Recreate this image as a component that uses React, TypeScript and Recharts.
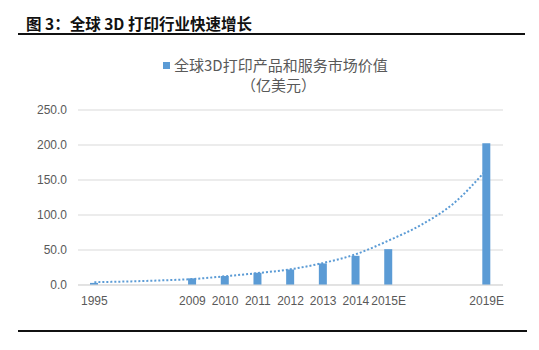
import React from 'react';
import { ComposedChart, Bar, Line, XAxis, YAxis, CartesianGrid } from 'recharts';

const categories = ['1995', '1996', '1997', '2009', '2010', '2011', '2012', '2013', '2014', '2015E', '2016E', '2017E', '2019E'];
const tickLabels = ['1995', '', '', '2009', '2010', '2011', '2012', '2013', '2014', '2015E', '', '', '2019E'];
const marketValue: (number | null)[] = [3, null, null, 9.5, 12.8, 17.5, 22.2, 30.8, 41.7, 51.2, null, null, 202.5];
const trendValue = [4, 5, 6.5, 8.5, 12.5, 17, 22.5, 31.5, 44, 63.5, 86, 117, 165];
const yTicks = [0, 50, 100, 150, 200, 250];

const seriesName = '全球3D打印产品和服务市场价值';
const unitLabel = '（亿美元）';
const titleText = '图 3：全球 3D 打印行业快速增长';

const data = categories.map((c, i) => ({
  year: c,
  label: tickLabels[i],
  value: marketValue[i],
  trend: trendValue[i],
}));

const BLUE = '#5B9BD5';
const tickStyle = { fontSize: 12, fill: '#595959', fontFamily: '"Liberation Sans", Arial, sans-serif' };

export default function App() {
  return (
    <div
      style={{
        position: 'absolute',
        left: 0,
        top: 0,
        width: 539,
        height: 350,
        background: '#fff',
        overflow: 'hidden',
      }}
    >
      <div
        style={{
          position: 'absolute',
          left: 26,
          top: 13,
          fontSize: 15.5,
          fontWeight: 'bold',
          color: '#111',
          fontFamily: '"Noto Sans CJK SC", sans-serif',
          lineHeight: '20px',
          whiteSpace: 'nowrap',
        }}
      >
        {titleText}
      </div>
      <div style={{ position: 'absolute', left: 18, top: 33, width: 507, height: 1.5, background: '#111' }} />
      <div style={{ position: 'absolute', left: 18, top: 330, width: 509, height: 1.5, background: '#111' }} />

      <div style={{ position: 'absolute', left: 163, top: 62, width: 7, height: 7, background: BLUE }} />
      <div
        style={{
          position: 'absolute',
          left: 174,
          top: 55,
          fontSize: 15,
          color: '#595959',
          fontFamily: '"Noto Sans CJK SC", sans-serif',
          lineHeight: '20px',
          whiteSpace: 'nowrap',
        }}
      >
        {seriesName}
      </div>
      <div
        style={{
          position: 'absolute',
          left: 241,
          top: 75,
          fontSize: 15,
          color: '#595959',
          fontFamily: '"Noto Sans CJK SC", sans-serif',
          lineHeight: '20px',
          whiteSpace: 'nowrap',
        }}
      >
        {unitLabel}
      </div>

      <div style={{ position: 'absolute', left: 0, top: 0 }}>
        <ComposedChart
          width={539}
          height={350}
          data={data}
          margin={{ top: 110, right: 36, left: 0, bottom: 35 }}
          barCategoryGap={0}
        >
          <CartesianGrid vertical={false} stroke="#d9d9d9" />
          <XAxis
            dataKey="year"
            interval={0}
            height={30}
            tickFormatter={(v: string, i: number) => tickLabels[i] ?? ''}
            tick={tickStyle}
            tickLine={false}
            axisLine={{ stroke: '#d9d9d9' }}
            tickMargin={5}
          />
          <YAxis
            width={78}
            domain={[0, 250]}
            ticks={yTicks}
            tickFormatter={(v: number) => v.toFixed(1)}
            tick={tickStyle}
            tickLine={false}
            axisLine={false}
            tickMargin={5}
          />
          <Bar dataKey="value" fill={BLUE} barSize={8} isAnimationActive={false} />
          <Line
            dataKey="trend"
            type="monotone"
            stroke={BLUE}
            strokeWidth={2}
            strokeDasharray="2 2"
            dot={false}
            activeDot={false}
            isAnimationActive={false}
          />
        </ComposedChart>
      </div>
    </div>
  );
}
